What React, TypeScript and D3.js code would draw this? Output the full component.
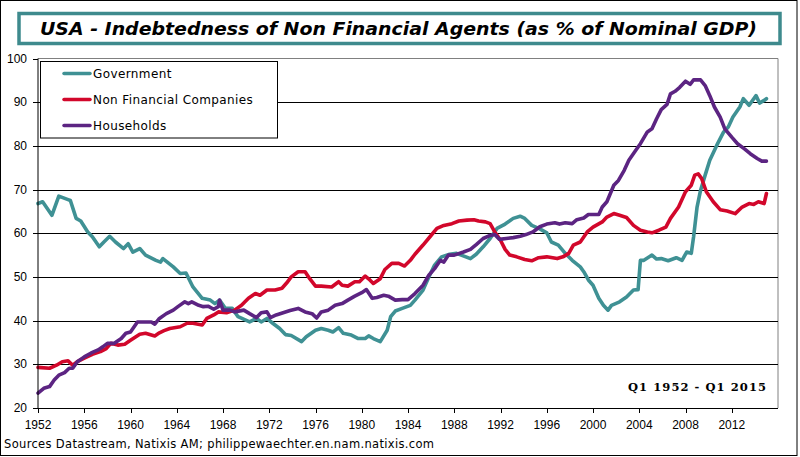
import React from "react";
import * as d3 from "d3";

const govData: [number, number][] = [[1952.0,66.8],[1952.4,67.2],[1953.2,64.1],[1953.8,68.5],[1954.6,67.7],[1954.8,67.5],[1955.3,63.4],[1955.7,62.8],[1956.3,60.3],[1956.7,59.2],[1957.3,56.9],[1957.7,58.0],[1958.2,59.3],[1958.7,58.0],[1959.4,56.5],[1959.8,57.6],[1960.2,55.7],[1960.8,56.5],[1961.3,55.0],[1962.2,53.8],[1962.6,53.4],[1962.8,54.2],[1963.7,52.3],[1964.3,50.8],[1964.8,50.9],[1965.4,47.7],[1966.2,45.1],[1966.9,44.7],[1967.3,43.9],[1967.7,44.7],[1968.2,42.8],[1968.8,42.8],[1969.3,40.9],[1970.3,39.7],[1970.9,40.5],[1971.3,39.7],[1971.8,40.5],[1972.3,39.4],[1972.9,38.2],[1973.4,36.8],[1973.9,36.6],[1974.8,35.2],[1975.2,36.3],[1976.0,37.8],[1976.5,38.2],[1977.1,37.8],[1977.5,37.4],[1978.0,38.4],[1978.4,37.1],[1979.1,36.7],[1979.7,35.9],[1980.3,35.9],[1980.6,36.5],[1981.0,35.9],[1981.6,35.2],[1982.2,37.8],[1982.5,40.9],[1982.9,42.2],[1983.5,42.8],[1984.2,43.5],[1984.6,44.7],[1985.3,47.0],[1985.8,50.0],[1986.3,52.7],[1986.9,54.6],[1987.6,55.2],[1988.2,55.4],[1988.6,55.0],[1989.4,54.2],[1989.9,55.2],[1990.5,56.9],[1991.1,58.8],[1991.7,61.1],[1992.4,62.1],[1993.1,63.4],[1993.7,63.9],[1994.1,63.4],[1994.7,61.8],[1995.4,61.0],[1996.0,60.1],[1996.4,58.0],[1997.0,57.3],[1997.6,55.4],[1998.2,53.8],[1998.9,52.3],[1999.2,51.2],[1999.6,49.3],[2000.0,48.1],[2000.5,45.1],[2000.9,43.5],[2001.3,42.4],[2001.6,43.5],[2002.3,44.3],[2002.9,45.4],[2003.5,47.0],[2003.9,47.1],[2004.1,53.8],[2004.4,53.8],[2005.1,55.0],[2005.5,54.1],[2005.9,54.2],[2006.5,53.7],[2007.2,54.4],[2007.7,53.8],[2008.1,55.7],[2008.5,55.4],[2008.7,59.2],[2009.0,66.0],[2009.3,69.8],[2009.7,73.3],[2010.1,76.7],[2010.7,80.1],[2011.3,83.2],[2011.7,84.3],[2012.1,86.6],[2012.7,88.9],[2013.0,90.8],[2013.5,89.3],[2014.1,91.5],[2014.4,89.8],[2014.8,90.4],[2015.0,90.8]];

const nfcData: [number, number][] = [[1952.0,29.3],[1953.0,29.1],[1953.6,29.8],[1954.1,30.6],[1954.6,30.8],[1955.0,29.8],[1955.4,30.6],[1956.0,31.4],[1956.7,32.3],[1957.4,32.9],[1957.9,33.6],[1958.3,34.8],[1958.9,34.4],[1959.5,34.6],[1960.0,35.5],[1960.8,36.9],[1961.3,37.1],[1962.1,36.5],[1962.5,37.2],[1962.9,37.7],[1963.4,38.2],[1964.3,38.6],[1964.9,39.4],[1965.4,39.4],[1966.2,39.0],[1966.6,40.5],[1967.2,41.3],[1967.6,42.0],[1968.3,41.8],[1969.0,42.4],[1969.6,43.5],[1970.2,45.1],[1970.8,46.2],[1971.2,45.8],[1971.8,47.0],[1972.5,47.0],[1973.1,47.4],[1973.5,48.6],[1973.9,50.0],[1974.5,51.2],[1975.1,51.2],[1975.5,49.6],[1976.0,47.9],[1976.5,47.9],[1977.4,47.7],[1978.0,48.9],[1978.3,48.1],[1978.8,47.9],[1979.4,48.9],[1979.8,48.9],[1980.3,50.2],[1980.7,49.3],[1981.0,48.5],[1981.6,49.6],[1982.0,51.7],[1982.6,53.1],[1983.2,53.1],[1983.7,52.5],[1984.2,53.8],[1984.6,55.2],[1985.3,57.3],[1985.9,59.2],[1986.5,61.1],[1987.1,61.8],[1987.8,62.2],[1988.4,62.8],[1989.1,63.0],[1989.7,63.1],[1990.1,62.8],[1990.7,62.6],[1991.1,62.2],[1991.5,60.3],[1992.0,58.4],[1992.4,56.3],[1992.8,55.0],[1993.4,54.6],[1994.1,54.0],[1994.7,53.7],[1995.3,54.4],[1996.0,54.6],[1996.9,54.2],[1997.4,54.6],[1997.9,55.4],[1998.3,57.3],[1998.9,58.0],[1999.5,60.3],[2000.0,61.4],[2000.8,62.6],[2001.2,63.7],[2001.8,64.5],[2002.3,64.1],[2002.9,63.6],[2003.5,61.8],[2004.1,60.7],[2004.7,60.3],[2005.1,60.1],[2005.7,60.7],[2006.3,61.4],[2006.7,63.4],[2007.4,66.0],[2008.0,69.5],[2008.5,71.0],[2008.8,73.3],[2009.1,73.6],[2009.4,72.5],[2009.8,69.5],[2010.4,67.2],[2011.0,65.4],[2011.6,65.1],[2012.3,64.5],[2012.9,66.0],[2013.5,66.8],[2013.9,66.6],[2014.3,67.2],[2014.8,66.8],[2015.0,69.1]];

const hhData: [number, number][] = [[1952.0,23.4],[1952.5,24.5],[1953.0,24.9],[1953.4,26.4],[1953.8,27.5],[1954.3,28.1],[1954.7,29.1],[1955.0,29.1],[1955.4,30.6],[1956.0,31.7],[1956.6,32.6],[1957.2,33.3],[1957.6,34.0],[1958.0,34.8],[1958.6,34.8],[1959.2,35.9],[1959.6,37.1],[1960.0,37.4],[1960.6,39.7],[1961.1,39.7],[1961.8,39.7],[1962.1,39.2],[1962.5,40.5],[1963.1,41.6],[1963.7,42.4],[1964.1,43.2],[1964.7,44.3],[1965.0,43.9],[1965.3,44.3],[1965.9,43.5],[1966.3,43.2],[1966.7,43.3],[1967.2,42.6],[1967.6,43.2],[1967.7,44.7],[1968.0,42.4],[1968.6,42.4],[1969.0,42.0],[1969.8,42.4],[1970.3,41.6],[1970.9,40.7],[1971.3,41.8],[1971.8,42.0],[1972.1,40.7],[1972.6,41.3],[1973.2,41.8],[1973.8,42.3],[1974.5,42.8],[1975.1,42.0],[1975.7,41.6],[1976.1,40.6],[1976.5,42.0],[1977.1,42.4],[1977.7,43.5],[1978.3,43.9],[1978.8,44.7],[1979.4,45.6],[1980.0,46.4],[1980.4,47.1],[1980.9,45.1],[1981.3,45.3],[1981.9,45.8],[1982.3,45.6],[1982.9,44.7],[1983.5,44.8],[1984.0,44.8],[1984.6,46.2],[1985.3,48.1],[1985.8,50.4],[1986.3,51.9],[1986.8,53.8],[1987.1,53.4],[1987.5,55.0],[1988.0,55.0],[1988.8,55.7],[1989.4,56.3],[1989.9,57.4],[1990.5,58.8],[1991.1,59.5],[1991.5,59.7],[1991.9,58.6],[1992.5,58.8],[1993.1,59.0],[1993.7,59.3],[1994.2,59.7],[1994.8,60.3],[1995.4,61.5],[1996.0,62.1],[1996.7,62.4],[1997.1,62.1],[1997.6,62.4],[1998.2,62.2],[1998.6,63.1],[1999.2,63.5],[1999.6,64.3],[2000.5,64.3],[2000.8,66.0],[2001.2,67.2],[2001.5,69.1],[2001.8,71.0],[2002.2,72.1],[2002.7,74.4],[2003.1,76.7],[2003.7,79.0],[2004.1,80.5],[2004.7,83.2],[2005.1,83.9],[2005.5,86.2],[2005.9,88.3],[2006.4,89.5],[2006.7,91.9],[2007.1,92.5],[2007.5,93.4],[2008.0,94.8],[2008.4,94.1],[2008.7,95.1],[2009.3,95.1],[2009.7,93.8],[2010.1,91.5],[2010.5,88.9],[2011.0,86.6],[2011.4,83.9],[2012.0,82.0],[2012.5,80.5],[2013.1,79.3],[2013.6,78.2],[2014.2,77.1],[2014.6,76.5],[2015.0,76.5]];

const seriesNames = ["Government", "Non Financial Companies", "Households"];
const seriesColors = ["#3F9194", "#D2072B", "#5C2482"];
const yTicks = [20, 30, 40, 50, 60, 70, 80, 90, 100];
const xTicks = [1952, 1956, 1960, 1964, 1968, 1972, 1976, 1980, 1984, 1988, 1992, 1996, 2000, 2004, 2008, 2012];
const titleText = "USA - Indebtedness of Non Financial Agents (as % of Nominal GDP)";
const periodText = "Q1 1952 - Q1 2015";
const sourceText = "Sources Datastream, Natixis AM; philippewaechter.en.nam.natixis.com";

const W = 800, H = 457;
const L = 38, R = 778, T = 58.5, B = 408;

export default function App() {
  const x = d3.scaleLinear().domain([1952, 2016]).range([L, R]);
  const y = d3.scaleLinear().domain([20, 100]).range([B, T]);
  const line = d3.line<[number, number]>().x(d => x(d[0])).y(d => y(d[1]));
  const allSeries = [govData, nfcData, hhData];
  const legendY = [73.5, 99.5, 125.5];
  return (
    <svg width={W} height={H} style={{ position: "absolute", left: 0, top: 0, background: "#fff" }}>
      <rect x={0} y={0} width={W} height={H} fill="#fff" />
      <rect x={0.5} y={0.5} width={796.5} height={455} fill="none" stroke="#000" strokeWidth={1} />
      <rect x={19} y={13.5} width={761} height={30} fill="#fff" stroke="#3E8A8D" strokeWidth={3.5} />
      <text x={40} y={35} fontFamily="DejaVu Sans" fontWeight="bold" fontStyle="italic" fontSize={18.5}
        textLength={717} lengthAdjust="spacingAndGlyphs" fill="#000">{titleText}</text>

      <line x1={L} x2={R} y1={T} y2={T} stroke="#808080" strokeWidth={1} />
      <line x1={R} x2={R} y1={T} y2={B} stroke="#808080" strokeWidth={1} />
      {yTicks.filter(t => t > 20 && t < 100).map(t => (
        <line key={"g" + t} x1={L} x2={R} y1={Math.round(y(t)) + 0.5} y2={Math.round(y(t)) + 0.5} stroke="#000" strokeWidth={1} />
      ))}
      {allSeries.map((s, i) => (
        <path key={"s" + i} d={line(s) || ""} fill="none" stroke={seriesColors[i]} strokeWidth={3.6}
          strokeLinejoin="round" strokeLinecap="round" />
      ))}
      <line x1={L} x2={L} y1={T} y2={B} stroke="#000" strokeWidth={1} />
      <line x1={L} x2={R} y1={B + 0.5} y2={B + 0.5} stroke="#000" strokeWidth={1} />
      {yTicks.map(t => (
        <g key={"yt" + t}>
          <line x1={L - 5} x2={L} y1={Math.round(y(t)) + 0.5} y2={Math.round(y(t)) + 0.5} stroke="#000" />
          <text x={27} y={y(t) + 4} textAnchor="end" fontFamily="Liberation Sans" fontSize={12} fill="#000">{t}</text>
        </g>
      ))}
      {xTicks.map(t => (
        <g key={"xt" + t}>
          <line x1={Math.round(x(t)) + 0.5} x2={Math.round(x(t)) + 0.5} y1={B} y2={B + 5} stroke="#000" />
          <text x={x(t)} y={429} textAnchor="middle" fontFamily="Liberation Sans" fontSize={12} fill="#000">{t}</text>
        </g>
      ))}

      <rect x={40.5} y={61.5} width={237} height={76.5} fill="#fff" stroke="#000" strokeWidth={1} />
      {seriesNames.map((n, i) => (
        <g key={"l" + i}>
          <line x1={64} x2={90} y1={legendY[i]} y2={legendY[i]} stroke={seriesColors[i]} strokeWidth={3.5} strokeLinecap="round" />
          <text x={93} y={legendY[i] + 4} fontFamily="DejaVu Sans" fontSize={12} letterSpacing={0.4} fill="#000">{n}</text>
        </g>
      ))}

      <text x={766} y={391} textAnchor="end" fontFamily="DejaVu Serif" fontWeight="bold" fontSize={11.5}
        textLength={138} lengthAdjust="spacing" fill="#000">{periodText}</text>
      <text x={4} y={448} fontFamily="DejaVu Sans" fontSize={11.5}
        textLength={430} lengthAdjust="spacing" fill="#000">{sourceText}</text>
    </svg>
  );
}
